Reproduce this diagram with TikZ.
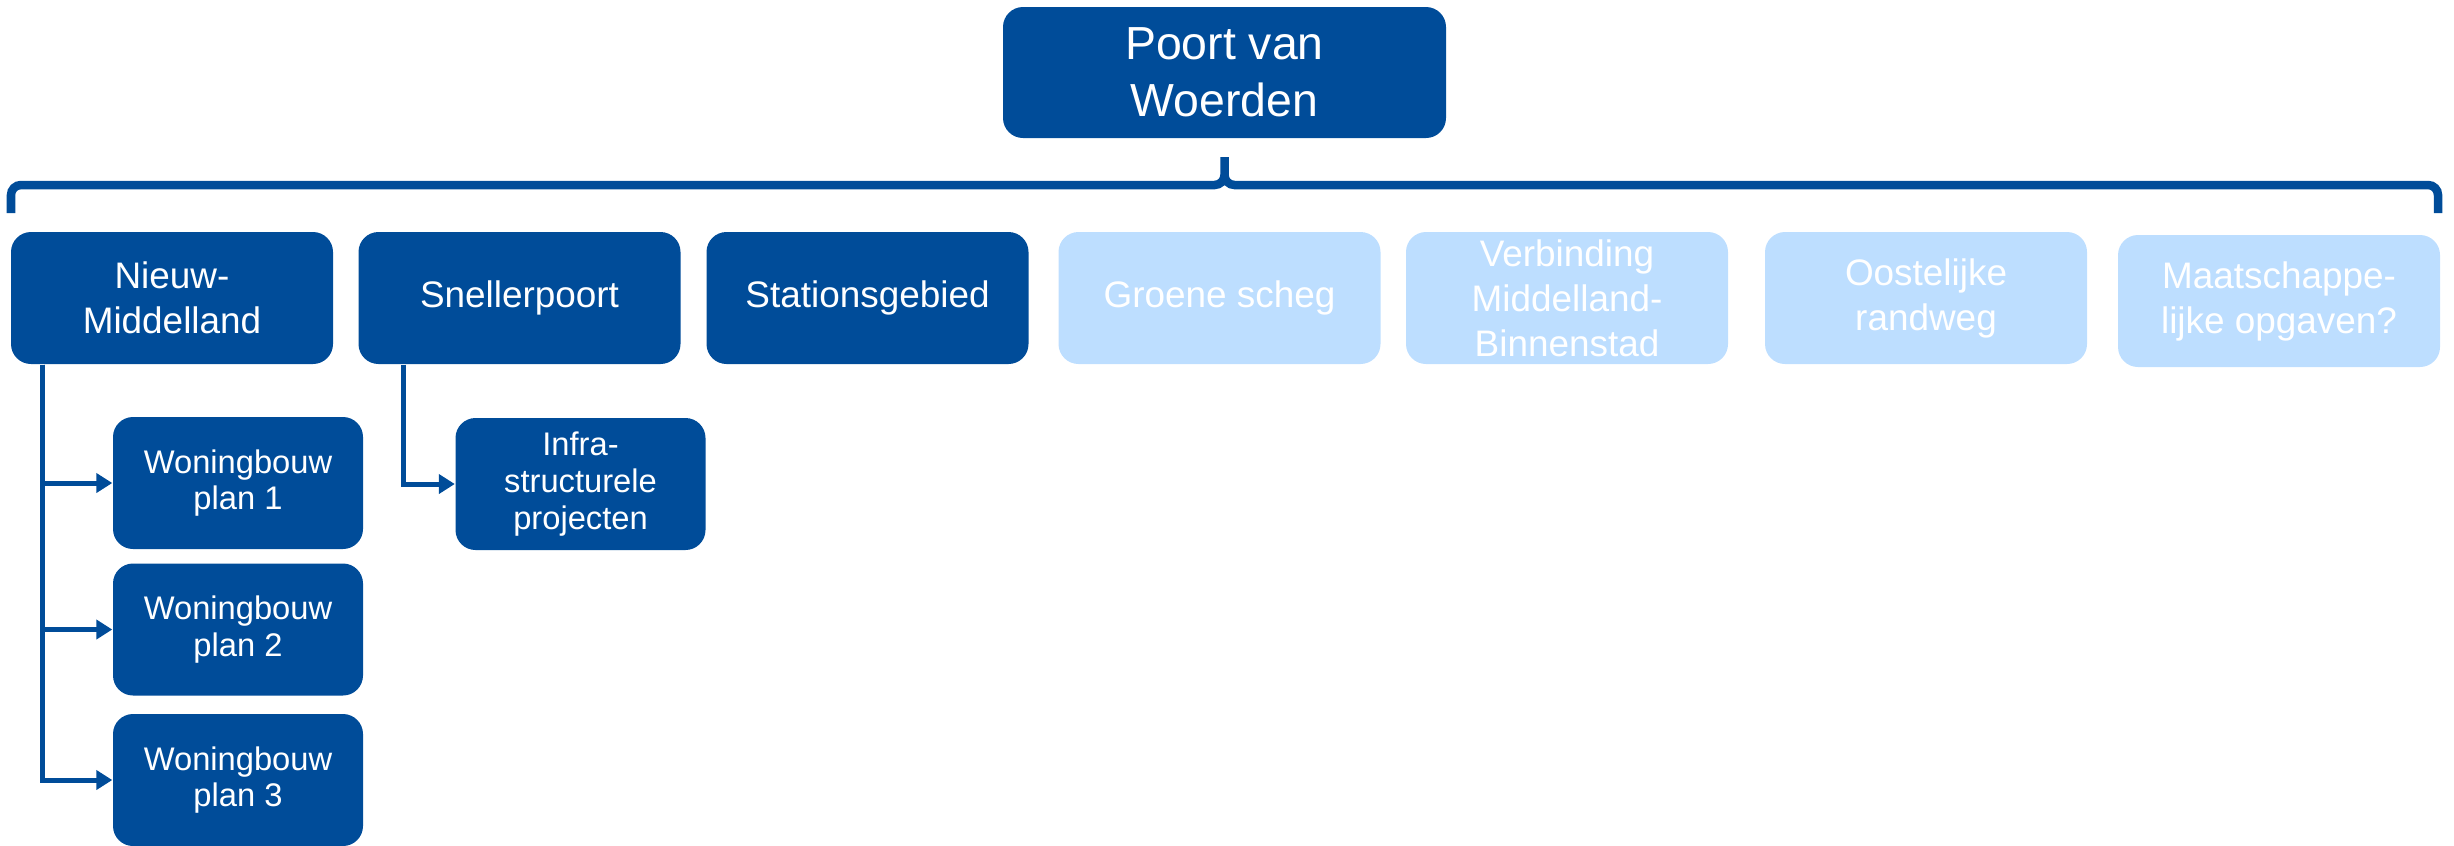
\documentclass[tikz,border=0pt]{standalone}
\usepackage{fontspec}
\setmainfont{Liberation Sans}
\usetikzlibrary{positioning, arrows.meta, calc}
\definecolor{pBlue}{HTML}{004C99}
\definecolor{pLight}{HTML}{BDDEFF}

\begin{document}
\begin{tikzpicture}[
  box/.style={rounded corners=0.2cm, minimum width=3.22cm,
              minimum height=1.32cm, align=center, text=white,
              fill=pBlue, inner sep=0pt,
              font=\fontsize{10.5}{12.8}\selectfont},
  faded/.style={box, fill=pLight},
  sub/.style={box, minimum width=2.5cm,
              font=\fontsize{9.3}{10.4}\selectfont},
  link/.style={draw=pBlue, line width=0.05cm,
               -{Triangle[length=0.16cm, width=0.19cm]}},
  bracket/.style={draw=pBlue, line width=0.085cm},
]
  \useasboundingbox (0,0) rectangle (24.54,-8.45);
  \node[box, minimum width=4.43cm, minimum height=1.31cm,
        font=\fontsize{13.2}{16.2}\selectfont] (pvw) at (12.245,-0.725)
    {Poort van\\Woerden};

  \node[box]   (nm)  at ( 1.72,  -2.98) {Nieuw-\\Middelland};
  \node[box]   (sp)  at ( 5.195, -2.98) {Snellerpoort};
  \node[box]   (sg)  at ( 8.675, -2.98) {Stationsgebied};
  \node[faded] (gs)  at (12.195, -2.98) {Groene scheg};
  \node[faded] (vmb) at (15.67,  -2.98) {Verbinding\\Middelland-\\Binnenstad};
  \node[faded] (ow)  at (19.26,  -2.98) {Oostelijke\\randweg};
  \node[faded] (mo)  at (22.79,  -3.01) {Maatschappe-\\lijke opgaven?};

  \node[sub] (wb1) at (2.38,  -4.83)  {Woningbouw\\plan 1};
  \node[sub] (wb2) at (2.38,  -6.295) {Woningbouw\\plan 2};
  \node[sub] (wb3) at (2.38,  -7.80)  {Woningbouw\\plan 3};
  \node[sub] (isp) at (5.805, -4.84)  {Infra-\\structurele\\projecten};

  \coordinate (bl)  at ( 0.11,  -2.13);
  \coordinate (br)  at (24.38,  -2.13);
  \coordinate (tip) at (12.245, -1.57);
  \draw[bracket] (bl) -- ++(0,0.18) arc[start angle=180, end angle=90, radius=0.1]
    -- ($(tip)+(-0.1,-0.28)$) arc[start angle=-90, end angle=0, radius=0.1]
    -- (tip) -- ++(0,-0.18) arc[start angle=180, end angle=270, radius=0.1]
    -- ($(br)+(-0.1,0.28)$) arc[start angle=90, end angle=0, radius=0.1]
    -- (br);

  \draw[link] ([xshift=0.32cm]nm.south west) |- (wb1.west);
  \draw[link] ([xshift=0.32cm]nm.south west) |- (wb2.west);
  \draw[link] ([xshift=0.32cm]nm.south west) |- (wb3.west);
  \draw[link] ([xshift=0.46cm]sp.south west) |- (isp.west);
\end{tikzpicture}
\end{document}
